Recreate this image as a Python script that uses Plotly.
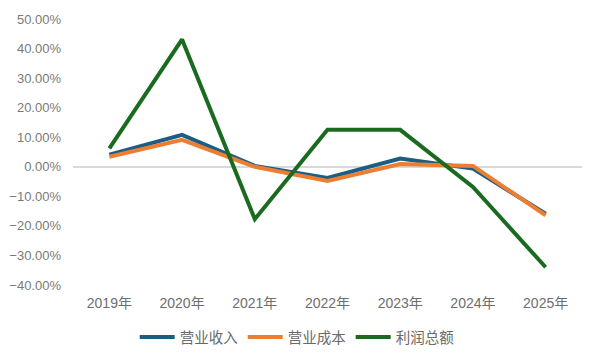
import plotly.graph_objects as go

years = ["2019年", "2020年", "2021年", "2022年", "2023年", "2024年", "2025年"]
revenue = [0.041, 0.108, 0.003, -0.038, 0.028, -0.006, -0.159]
cost = [0.034, 0.091, 0.000, -0.048, 0.009, 0.003, -0.164]
profit = [0.062, 0.431, -0.177, 0.125, 0.125, -0.068, -0.340]

names = ["营业收入", "营业成本", "利润总额"]
colors = ["#1B5E85", "#ED7D31", "#1A6B1F"]

fig = go.Figure()
for name, vals, c in zip(names, [revenue, cost, profit], colors):
    fig.add_trace(go.Scatter(x=years, y=vals, name=name, mode="lines",
                             line=dict(color=c, width=4)))

font_family = "Liberation Sans, Noto Sans CJK SC, sans-serif"
fig.update_layout(
    width=600, height=360,
    margin=dict(l=65, r=26, t=11, b=83, autoexpand=False),
    paper_bgcolor="white", plot_bgcolor="white",
    font=dict(family=font_family, size=13, color="#767676"),
    showlegend=True,
    legend=dict(orientation="h", xref="container", yref="container",
                x=0.482, xanchor="center", y=0.086, yanchor="middle",
                font=dict(size=14.5, color="#6a6a6a"), itemwidth=35, traceorder="normal"),
    xaxis=dict(showgrid=False, showline=False, ticks="", range=[-0.5, 6.5],
               automargin=False, ticklabelstandoff=8,
               tickfont=dict(size=14, color="#6e6e6e")),
    yaxis=dict(range=[-0.40, 0.50], dtick=0.10, tickformat=".2%", showgrid=False,
               zeroline=True, zerolinecolor="#d9d9d9", zerolinewidth=1.5,
               automargin=False, ticklabelstandoff=11,
               ticks="", tickfont=dict(size=13, color="#7a7a7a")),
)
fig.write_html("out.html")
